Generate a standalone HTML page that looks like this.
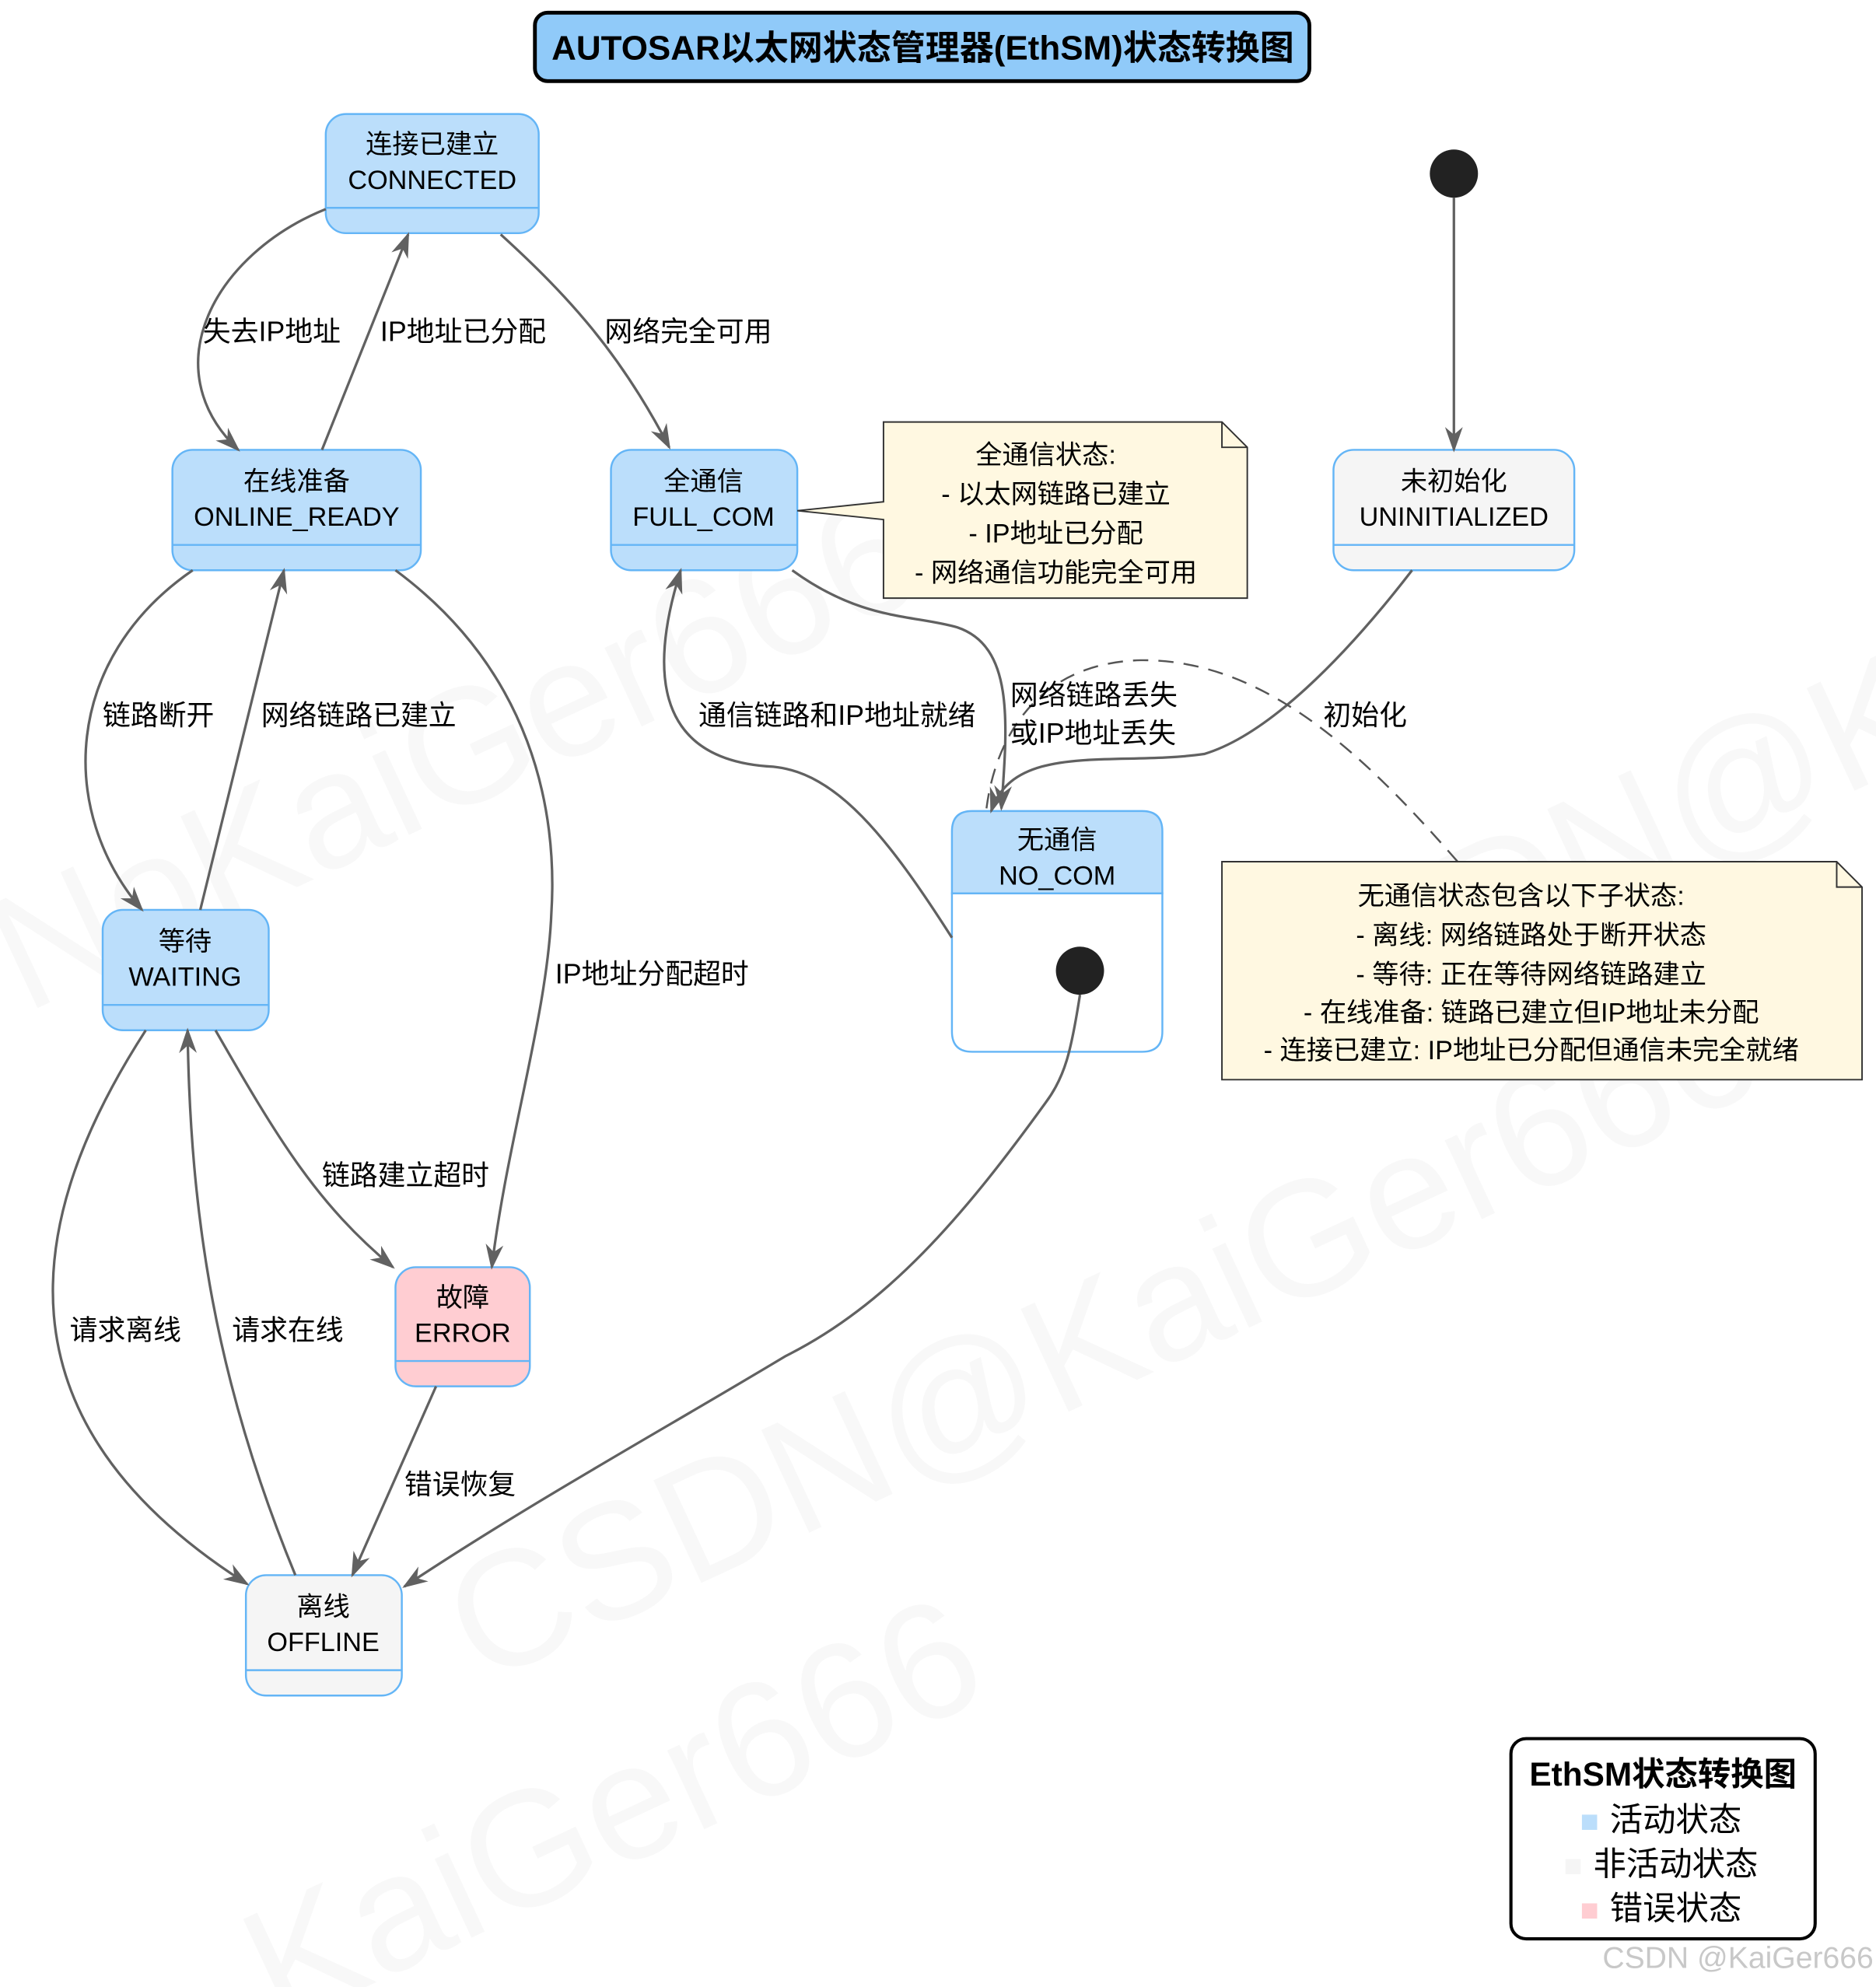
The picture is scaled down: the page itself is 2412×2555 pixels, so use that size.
<!DOCTYPE html>
<html><head><meta charset="utf-8">
<style>
html,body{margin:0;padding:0;background:#fff;}
svg{display:block;}
text{font-family:"Liberation Sans","Noto Sans CJK SC",sans-serif;}
</style></head>
<body>
<svg width="2412" height="2555" viewBox="0 0 1480 1568" preserveAspectRatio="none" xmlns="http://www.w3.org/2000/svg">
<defs>
<marker id="a" viewBox="0 0 20 20" refX="18" refY="10" markerWidth="20" markerHeight="20" orient="auto" markerUnits="userSpaceOnUse">
<path d="M0,3 L20,10 L0,17 L6,10 Z" fill="#616161"/>
</marker>
</defs>
<!-- watermark -->
<g fill="#000" opacity="0.025" font-size="130">
<text transform="translate(20,800) rotate(-25)">NoKaiGer666</text>
<text transform="translate(380,1330) rotate(-25)">CSDN@KaiGer666</text>
<text transform="translate(220,1600) rotate(-25)">KaiGer666</text>
<text transform="translate(1000,840) rotate(-25)">CSDN@K</text>
</g>
<!-- title -->
<rect x="422" y="10" width="611" height="54" rx="10" fill="#90caf9" stroke="#000" stroke-width="3"/>
<text x="728" y="47" font-size="27" font-weight="bold" text-anchor="middle">AUTOSAR以太网状态管理器(EthSM)状态转换图</text>

<!-- states -->
<g stroke="#64b5f6" stroke-width="1.5">
<rect x="257" y="90" width="168" height="94" rx="16" fill="#bbdefb"/>
<rect x="136" y="355" width="196" height="95" rx="16" fill="#bbdefb"/>
<rect x="482" y="355" width="147" height="95" rx="16" fill="#bbdefb"/>
<rect x="1052" y="355" width="190" height="95" rx="16" fill="#f5f5f5"/>
<rect x="81" y="718" width="131" height="95" rx="16" fill="#bbdefb"/>
<rect x="312" y="1000" width="106" height="94" rx="16" fill="#ffcdd2"/>
<rect x="194" y="1243" width="123" height="95" rx="16" fill="#f5f5f5"/>
<path d="M751,705 L751,656 Q751,640 767,640 L901,640 Q917,640 917,656 L917,705 Z" fill="#bbdefb"/>
<path d="M751,705 L917,705 L917,814 Q917,830 901,830 L767,830 Q751,830 751,814 Z" fill="#fff"/>
<line x1="257" y1="164" x2="425" y2="164"/>
<line x1="136" y1="430" x2="332" y2="430"/>
<line x1="482" y1="430" x2="629" y2="430"/>
<line x1="1052" y1="430" x2="1242" y2="430"/>
<line x1="81" y1="793" x2="212" y2="793"/>
<line x1="312" y1="1074" x2="418" y2="1074"/>
<line x1="194" y1="1318" x2="317" y2="1318"/>
</g>

<g fill="none" stroke="#616161" stroke-width="2" marker-end="url(#a)">
<path d="M1147,156 L1147,355"/>
<path d="M257,165 C170,200 120,290 188,355"/>
<path d="M254,355 L322,185"/>
<path d="M395,185 C450,235 490,280 528,353"/>
<path d="M152,450 C50,520 45,640 112,718"/>
<path d="M158,718 L224,450"/>
<path d="M312,450 C420,530 440,640 435,720 C432,800 400,900 388,1000"/>
<path d="M170,813 C220,900 250,950 310,1000"/>
<path d="M115,813 C20,960 -10,1120 195,1250"/>
<path d="M233,1243 C170,1090 150,960 148,813"/>
<path d="M344,1094 L278,1243"/>
<path d="M852,785 C845,830 840,850 825,870 C760,960 700,1030 620,1070 C520,1130 420,1185 319,1252"/>
<path d="M751,740 C700,660 660,610 610,605 C510,600 515,520 537,450"/>
<path d="M625,450 C680,490 720,485 755,495 C800,510 795,570 790,638"/>
<path d="M1114,450 C1060,520 1000,580 950,595 C880,605 800,585 782,640"/>
</g>
<path d="M1150,680 C1080,600 1000,520 900,521 C820,523 785,580 778,640" fill="none" stroke="#555" stroke-width="1.5" stroke-dasharray="12,8"/>

<circle cx="1147" cy="137" r="19" fill="#222"/>
<circle cx="852" cy="766" r="19" fill="#222"/>

<g font-size="21" text-anchor="middle">
<text x="341" y="121">连接已建立</text><text x="341" y="149">CONNECTED</text>
<text x="234" y="387">在线准备</text><text x="234" y="415">ONLINE_READY</text>
<text x="555" y="387">全通信</text><text x="555" y="415">FULL_COM</text>
<text x="1147" y="387">未初始化</text><text x="1147" y="415">UNINITIALIZED</text>
<text x="146" y="750">等待</text><text x="146" y="778">WAITING</text>
<text x="834" y="670">无通信</text><text x="834" y="698">NO_COM</text>
<text x="365" y="1031">故障</text><text x="365" y="1059">ERROR</text>
<text x="255" y="1275">离线</text><text x="255" y="1303">OFFLINE</text>
</g>

<!-- notes -->
<path d="M629,403 L697,396 L697,333 L964,333 L984,353 L984,472 L697,472 L697,410 Z" fill="#fff8e1" stroke="#333" stroke-width="1.2"/>
<path d="M964,333 L964,353 L984,353" fill="none" stroke="#333" stroke-width="1.2"/>
<g font-size="21" text-anchor="middle">
<text x="825" y="366">全通信状态:</text>
<text x="833" y="397">- 以太网链路已建立</text>
<text x="833" y="428">- IP地址已分配</text>
<text x="833" y="459">- 网络通信功能完全可用</text>
</g>
<path d="M964,680 L1449,680 L1469,700 L1469,852 L964,852 Z" fill="#fff8e1" stroke="#333" stroke-width="1.2"/>
<path d="M1449,680 L1449,700 L1469,700" fill="none" stroke="#333" stroke-width="1.2"/>
<g font-size="21" text-anchor="middle">
<text x="1200" y="714">无通信状态包含以下子状态:</text>
<text x="1208" y="745">- 离线: 网络链路处于断开状态</text>
<text x="1208" y="776">- 等待: 正在等待网络链路建立</text>
<text x="1208" y="806">- 在线准备: 链路已建立但IP地址未分配</text>
<text x="1208" y="836">- 连接已建立: IP地址已分配但通信未完全就绪</text>
</g>

<!-- edge labels -->
<g font-size="22">
<text x="160" y="269">失去IP地址</text>
<text x="300" y="269">IP地址已分配</text>
<text x="477" y="269">网络完全可用</text>
<text x="81" y="572">链路断开</text>
<text x="206" y="572">网络链路已建立</text>
<text x="551" y="572">通信链路和IP地址就绪</text>
<text x="797" y="556">网络链路丢失</text>
<text x="797" y="586">或IP地址丢失</text>
<text x="1044" y="572">初始化</text>
<text x="438" y="776">IP地址分配超时</text>
<text x="254" y="935">链路建立超时</text>
<text x="55" y="1057">请求离线</text>
<text x="183" y="1057">请求在线</text>
<text x="319" y="1179">错误恢复</text>
</g>

<!-- legend -->
<rect x="1192" y="1372" width="240" height="158" rx="12" fill="#fff" stroke="#000" stroke-width="2.5"/>
<text x="1312" y="1409" font-size="26" font-weight="bold" text-anchor="middle">EthSM状态转换图</text>
<rect x="1248" y="1432" width="12" height="12" fill="#bbdefb"/>
<text x="1270" y="1445" font-size="26">活动状态</text>
<rect x="1235" y="1467" width="12" height="12" fill="#f5f5f5"/>
<text x="1257" y="1480" font-size="26">非活动状态</text>
<rect x="1248" y="1502" width="12" height="12" fill="#ffcdd2"/>
<text x="1270" y="1515" font-size="26">错误状态</text>
<text x="1478" y="1553" font-size="24" fill="#c8c8c8" text-anchor="end">CSDN @KaiGer666</text>
</svg>
</body></html>
